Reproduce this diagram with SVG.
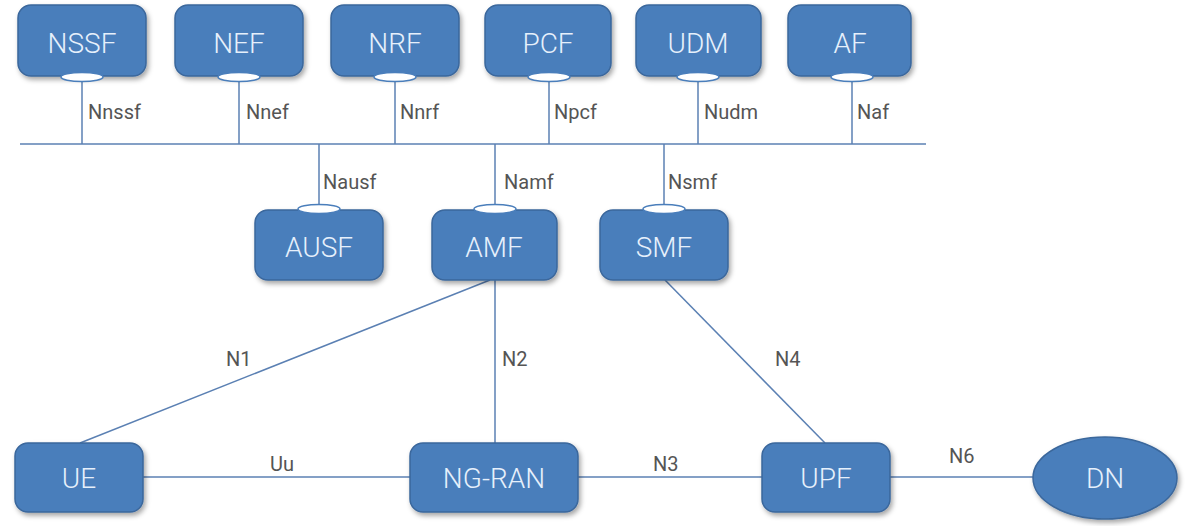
<svg xmlns="http://www.w3.org/2000/svg" width="1188" height="526" viewBox="0 0 1188 526">
<defs>
<filter id="sh" x="-20%" y="-20%" width="140%" height="150%">
<feDropShadow dx="2" dy="3" stdDeviation="2.5" flood-color="#000" flood-opacity="0.35"/>
</filter>
<style>
.box{fill:#4a7ebb;stroke:#3a679c;stroke-width:1.5;filter:url(#sh)}
.nt{font-family:Roboto,"Liberation Sans",sans-serif;font-weight:300;font-size:28px;fill:#e6f0fb;text-anchor:middle}
.lbl{font-family:Roboto,"Liberation Sans",sans-serif;font-size:20px;fill:#555}
.ln{stroke:#5b80b3;stroke-width:1.5;fill:none}
.port{fill:#fff;stroke:#4a7ebb;stroke-width:1.5}
</style>
</defs>
<rect width="1188" height="526" fill="#fff"/>
<g id="connectors">
<line class="ln" x1="20" y1="144" x2="926" y2="144"/>
<line class="ln" x1="82" y1="80" x2="82" y2="144"/>
<line class="ln" x1="239" y1="80" x2="239" y2="144"/>
<line class="ln" x1="395" y1="80" x2="395" y2="144"/>
<line class="ln" x1="549" y1="80" x2="549" y2="144"/>
<line class="ln" x1="698" y1="80" x2="698" y2="144"/>
<line class="ln" x1="852" y1="80" x2="852" y2="144"/>
<line class="ln" x1="319" y1="144" x2="319" y2="206"/>
<line class="ln" x1="495" y1="144" x2="495" y2="206"/>
<line class="ln" x1="664" y1="144" x2="664" y2="206"/>
<line class="ln" x1="490" y1="280" x2="80" y2="443"/>
<line class="ln" x1="495" y1="280" x2="495" y2="443"/>
<line class="ln" x1="665" y1="280" x2="825" y2="443"/>
<line class="ln" x1="143" y1="477" x2="410" y2="477"/>
<line class="ln" x1="578" y1="477" x2="762" y2="477"/>
<line class="ln" x1="890" y1="477" x2="1033" y2="477"/>
<text class="lbl" x="88" y="119">Nnssf</text>
<text class="lbl" x="246" y="119">Nnef</text>
<text class="lbl" x="400" y="119">Nnrf</text>
<text class="lbl" x="554" y="119">Npcf</text>
<text class="lbl" x="704" y="119">Nudm</text>
<text class="lbl" x="857" y="119">Naf</text>
<text class="lbl" x="323" y="189">Nausf</text>
<text class="lbl" x="504" y="189">Namf</text>
<text class="lbl" x="668" y="189">Nsmf</text>
<text class="lbl" x="226" y="366">N1</text>
<text class="lbl" x="502" y="366">N2</text>
<text class="lbl" x="775" y="366">N4</text>
<text class="lbl" x="270" y="471">Uu</text>
<text class="lbl" x="653" y="471">N3</text>
<text class="lbl" x="949" y="463">N6</text>
</g>
<g id="NSSF"><rect class="box" x="18" y="5" width="128" height="71" rx="13"/><ellipse class="port" cx="82" cy="77" rx="21" ry="4.5"/><text class="nt" x="82" y="53">NSSF</text></g>
<g id="NEF"><rect class="box" x="175" y="5" width="128" height="71" rx="13"/><ellipse class="port" cx="239" cy="77" rx="21" ry="4.5"/><text class="nt" x="239" y="53">NEF</text></g>
<g id="NRF"><rect class="box" x="331" y="5" width="128" height="71" rx="13"/><ellipse class="port" cx="395" cy="77" rx="21" ry="4.5"/><text class="nt" x="395" y="53">NRF</text></g>
<g id="PCF"><rect class="box" x="485" y="5" width="126" height="71" rx="13"/><ellipse class="port" cx="549" cy="77" rx="21" ry="4.5"/><text class="nt" x="548" y="53">PCF</text></g>
<g id="UDM"><rect class="box" x="636" y="5" width="125" height="71" rx="13"/><ellipse class="port" cx="698" cy="77" rx="21" ry="4.5"/><text class="nt" x="698" y="53">UDM</text></g>
<g id="AF"><rect class="box" x="788" y="5" width="123" height="71" rx="13"/><ellipse class="port" cx="852" cy="77" rx="21" ry="4.5"/><text class="nt" x="850" y="53">AF</text></g>
<g id="AUSF"><rect class="box" x="255" y="210" width="128" height="70" rx="13"/><ellipse class="port" cx="319" cy="209" rx="21" ry="4.5"/><text class="nt" x="319" y="257">AUSF</text></g>
<g id="AMF"><rect class="box" x="432" y="210" width="125" height="70" rx="13"/><ellipse class="port" cx="495" cy="209" rx="21" ry="4.5"/><text class="nt" x="494" y="257">AMF</text></g>
<g id="SMF"><rect class="box" x="600" y="210" width="128" height="70" rx="13"/><ellipse class="port" cx="664" cy="209" rx="21" ry="4.5"/><text class="nt" x="664" y="257">SMF</text></g>
<g id="UE"><rect class="box" x="15" y="443" width="128" height="69" rx="13"/><text class="nt" x="79" y="488">UE</text></g>
<g id="NG-RAN"><rect class="box" x="410" y="443" width="168" height="69" rx="13"/><text class="nt" x="494" y="488">NG-RAN</text></g>
<g id="UPF"><rect class="box" x="762" y="443" width="128" height="69" rx="13"/><text class="nt" x="826" y="488">UPF</text></g>
<g id="DN"><ellipse class="box" cx="1105" cy="478" rx="72" ry="41"/><text class="nt" x="1105" y="488">DN</text></g>
</svg>
